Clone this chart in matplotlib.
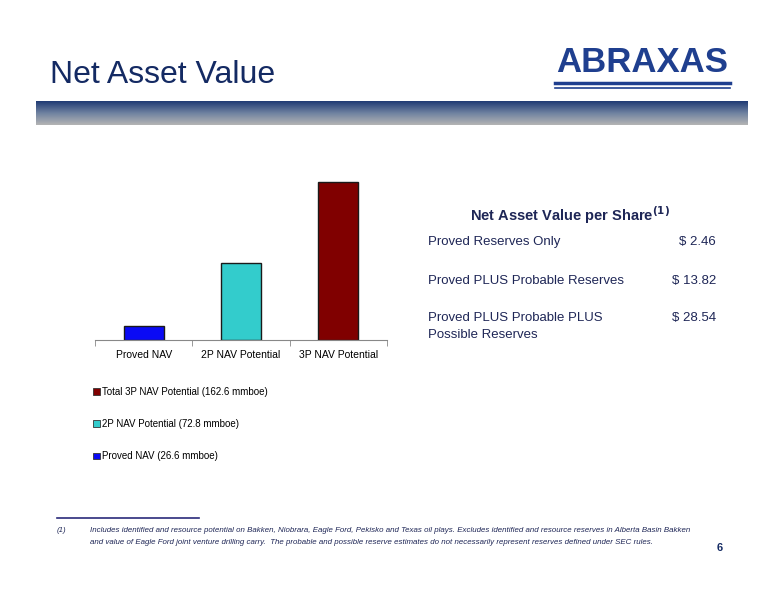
import matplotlib.pyplot as plt
from matplotlib.patches import Patch
from matplotlib.colors import LinearSegmentedColormap
import numpy as np

# bar chart data (NAV per share, $)
categories = ["Proved NAV", "2P NAV Potential", "3P NAV Potential"]
nav_values = [2.46, 13.82, 28.54]
bar_colors = ["#0a0af5", "#33cccc", "#800000"]
legend_labels = ["Proved NAV (26.6 mmboe)", "2P NAV Potential (72.8 mmboe)",
                 "Total 3P NAV Potential (162.6 mmboe)"]

# table on the right
table_rows = ["Proved Reserves Only", "Proved PLUS Probable Reserves",
              "Proved PLUS Probable PLUS"]
table_extra = "Possible Reserves"
table_values = ["$ 2.46", "$ 13.82", "$ 28.54"]

W, H = 776, 600
NAVY = "#142a63"
TXT = "#1e2656"


def fx(x):
    return x / W


def fy(y):
    return 1 - y / H


fig = plt.figure(figsize=(7.76, 6.0), dpi=100)
plt.rcParams["font.family"] = ["Liberation Sans", "DejaVu Sans"]

# title
fig.text(fx(50), fy(75), "Net Asset Value", fontsize=23, color=NAVY,
         va="center", ha="left")

# logo
fig.text(fx(642), fy(62), "ABRAXAS", fontsize=25, fontweight="bold", color="#1f3f8f",
         va="center", ha="center")
fig.add_artist(plt.Line2D([fx(555), fx(730)], [fy(83), fy(83)], color="#1f3f8f", lw=2.5))
fig.add_artist(plt.Line2D([fx(555), fx(730)], [fy(88), fy(88)], color="#1f3f8f", lw=1.2))

# gradient band
band = fig.add_axes([fx(36), fy(125), fx(748 - 36), (125 - 101) / H])
grad = np.linspace(0, 1, 100).reshape(-1, 1)
cmap = LinearSegmentedColormap.from_list("band", ["#1f3a74", "#6f82a0", "#b4b4b4"])
band.imshow(grad, aspect="auto", cmap=cmap, extent=[0, 1, 0, 1], origin="upper")
band.axis("off")

# bar chart
ax = fig.add_axes([fx(95), fy(340), fx(387 - 95), (340 - 173.8) / H])
x = np.arange(len(categories))
ax.bar(x, nav_values, width=0.41, color=bar_colors, edgecolor="#1a1a1a", linewidth=1.0)
ax.set_xlim(-0.5, 2.5)
ax.set_ylim(0, 30)
ax.set_xticks(x)
ax.set_xticklabels(categories, fontsize=7.5)
ax.tick_params(axis="x", length=0, pad=7)
ax.set_xticks([-0.5, 0.5, 1.5, 2.5], minor=True)
ax.tick_params(axis="x", which="minor", length=4, color="#888888", direction="out")
ax.set_yticks([])
for s in ["left", "right", "top"]:
    ax.spines[s].set_visible(False)
ax.spines["bottom"].set_color("#888888")

handles = [Patch(facecolor=c, edgecolor="#333333", linewidth=0.6) for c in bar_colors]
fig.legend(handles[::-1], legend_labels[::-1], loc="upper left",
           bbox_to_anchor=(fx(84), fy(378)), frameon=False, fontsize=7,
           handlelength=0.7, handleheight=0.7, handletextpad=0.3, labelspacing=2.3)

# table
fig.text(fx(570), fy(215), "Net Asset Value per Share$^{\\bf(1)}$", fontsize=10.5,
         fontweight="bold", color=TXT, ha="center", va="center")
row_y = [242, 281, 318]
for label, val, yy in zip(table_rows, table_values, row_y):
    fig.text(fx(428), fy(yy), label, fontsize=9.5, color=TXT, ha="left", va="center")
    fig.text(fx(716), fy(yy), val, fontsize=9.5, color=TXT, ha="right", va="center")
fig.text(fx(428), fy(335), table_extra, fontsize=9.5, color=TXT, ha="left", va="center")

# footnote
fig.add_artist(plt.Line2D([fx(57), fx(199)], [fy(518), fy(518)], color="#2a2a7a", lw=1.2))
fig.text(fx(57), fy(531), "(1)", fontsize=5.7, style="italic", color=TXT, va="center")
fig.text(fx(90), fy(531),
         "Includes identified and resource potential on Bakken, Niobrara, Eagle Ford, Pekisko and Texas oil plays. "
         "Excludes identified and resource reserves in Alberta Basin Bakken",
         fontsize=5.7, style="italic", color=TXT, va="center")
fig.text(fx(90), fy(542),
         "and value of Eagle Ford joint venture drilling carry.  The probable and possible reserve estimates "
         "do not necessarily represent reserves defined under SEC rules.",
         fontsize=5.7, style="italic", color=TXT, va="center")
fig.text(fx(720), fy(548), "6", fontsize=8, fontweight="bold", color=NAVY, ha="center", va="center")

fig.savefig("out.png", dpi=100)
